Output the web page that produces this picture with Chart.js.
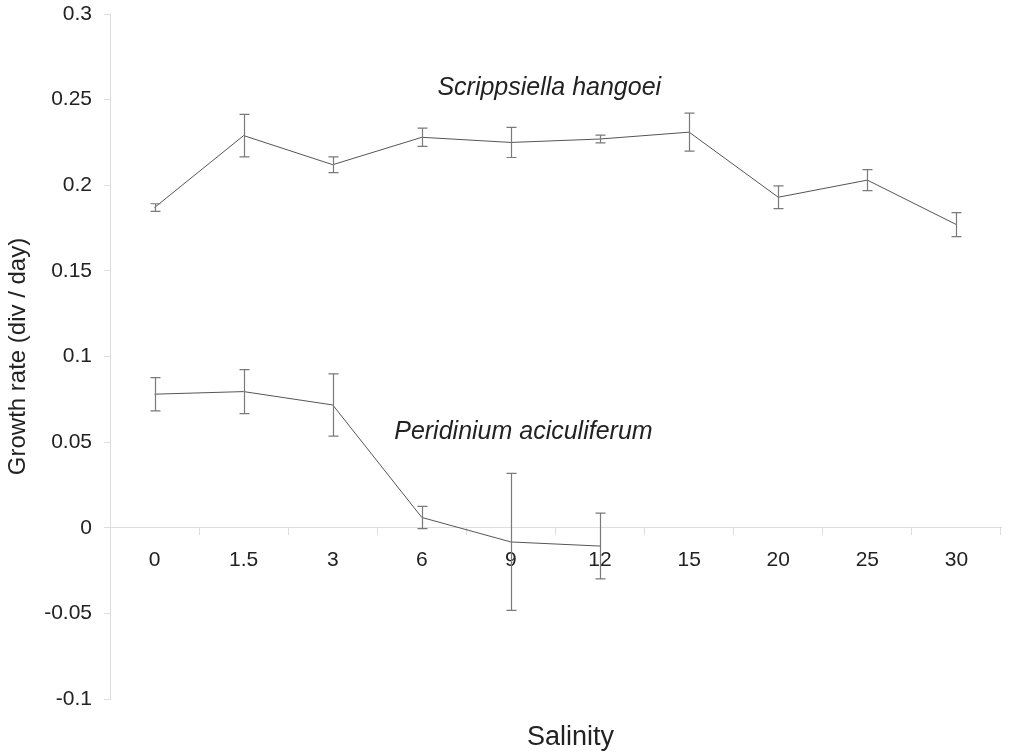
<!DOCTYPE html>
<html>
<head>
<meta charset="utf-8">
<script src="https://cdn.jsdelivr.net/npm/chart.js@4"></script>
<style>
  html, body { margin: 0; padding: 0; background: #fff; }
  #wrap { width: 1009px; height: 753px; }
</style>
</head>
<body>
<div id="wrap"><canvas id="growthChart" width="1009" height="753"></canvas></div>
<script>
// salinity categories
const categories = ["0", "1.5", "3", "6", "9", "12", "15", "20", "25", "30"];

// Scrippsiella hangoei: mean growth rate and error
const scrippsiellaMean = [0.187, 0.229, 0.212, 0.228, 0.225, 0.227, 0.231, 0.193, 0.203, 0.177];
const scrippsiellaErr = [0.0022, 0.0124, 0.0046, 0.0053, 0.0088, 0.0023, 0.0111, 0.0066, 0.0061, 0.007];

// Peridinium aciculiferum: no growth data above 12
const peridiniumMean = [0.078, 0.0795, 0.0717, 0.006, -0.0083, -0.0107, null, null, null, null];
const peridiniumErr = [0.0097, 0.0128, 0.0182, 0.0065, 0.04, 0.0192, null, null, null, null];

const yTicks = [-0.1, -0.05, 0, 0.05, 0.1, 0.15, 0.2, 0.25, 0.3];

const errors = [scrippsiellaErr, peridiniumErr];
const fontFamily = "'Liberation Sans', Arial, sans-serif";

// draw vertical error bars with caps from the scales
const errorBars = {
  id: "errorBars",
  afterDatasetsDraw(chart) {
    const ctx = chart.ctx;
    const yScale = chart.scales.y;
    ctx.save();
    ctx.strokeStyle = "#7a7a7a";
    ctx.lineWidth = 1.2;
    chart.data.datasets.forEach(function (ds, i) {
      const meta = chart.getDatasetMeta(i);
      ds.data.forEach(function (v, j) {
        const e = errors[i][j];
        if (v === null || e === null) return;
        const x = Math.round(meta.data[j].x) + 0.5;
        const top = yScale.getPixelForValue(v + e);
        const bot = yScale.getPixelForValue(v - e);
        ctx.beginPath();
        ctx.moveTo(x, top);
        ctx.lineTo(x, bot);
        ctx.moveTo(x - 5, top);
        ctx.lineTo(x + 5, top);
        ctx.moveTo(x - 5, bot);
        ctx.lineTo(x + 5, bot);
        ctx.stroke();
      });
    });
    ctx.restore();
  },
};

// species names and x axis title
const labels = {
  id: "labels",
  afterDraw(chart) {
    const ctx = chart.ctx;
    const x = chart.scales.x;
    const y = chart.scales.y;
    ctx.save();
    ctx.fillStyle = "#222";
    ctx.textAlign = "center";
    ctx.textBaseline = "middle";
    ctx.font = "italic 25px " + fontFamily;
    ctx.fillText("Scrippsiella hangoei", x.getPixelForValue(4.43), y.getPixelForValue(0.257));
    ctx.fillText("Peridinium aciculiferum", x.getPixelForValue(4.14), y.getPixelForValue(0.056));
    ctx.font = "27px " + fontFamily;
    const area = chart.chartArea;
    ctx.fillText("Salinity", (area.left + area.right) / 2 + 15, 738);
    ctx.restore();
  },
};

const ctx = document.getElementById("growthChart").getContext("2d");
new Chart(ctx, {
  type: "line",
  data: {
    labels: categories,
    datasets: [
      {
        label: "Scrippsiella hangoei",
        data: scrippsiellaMean,
        borderColor: "#555",
        borderWidth: 1,
        pointRadius: 0,
        tension: 0,
      },
      {
        label: "Peridinium aciculiferum",
        data: peridiniumMean,
        borderColor: "#555",
        borderWidth: 1,
        pointRadius: 0,
        tension: 0,
      },
    ],
  },
  options: {
    responsive: false,
    animation: false,
    layout: { padding: { top: 14, right: 8, bottom: 54, left: 0 } },
    plugins: {
      legend: { display: false },
      tooltip: { enabled: false },
    },
    scales: {
      x: {
        type: "category",
        position: { y: 0 },
        offset: true,
        grid: {
          offset: true,
          drawOnChartArea: false,
          tickLength: 7,
          color: "#ddd",
        },
        border: { color: "#ddd" },
        ticks: {
          padding: 13,
          color: "#222",
          maxRotation: 0,
          font: { family: fontFamily, size: 21 },
        },
      },
      y: {
        min: -0.1,
        max: 0.3,
        afterFit: function (s) {
          s.width = 110;
          s.paddingTop = 0;
          s.paddingBottom = 0;
        },
        afterBuildTicks: function (s) {
          s.ticks = yTicks.map(function (v) { return { value: v }; });
        },
        grid: {
          drawOnChartArea: false,
          tickLength: 6,
          color: "#ddd",
        },
        border: { color: "#ddd" },
        ticks: {
          padding: 12,
          color: "#222",
          font: { family: fontFamily, size: 21 },
          callback: function (v) { return String(Number(v.toFixed(2))); },
        },
        title: {
          display: true,
          text: "Growth rate (div / day)",
          color: "#222",
          font: { family: fontFamily, size: 24 },
          padding: { top: 4, bottom: 4 },
        },
      },
    },
  },
  plugins: [errorBars, labels],
});
</script>
</body>
</html>
